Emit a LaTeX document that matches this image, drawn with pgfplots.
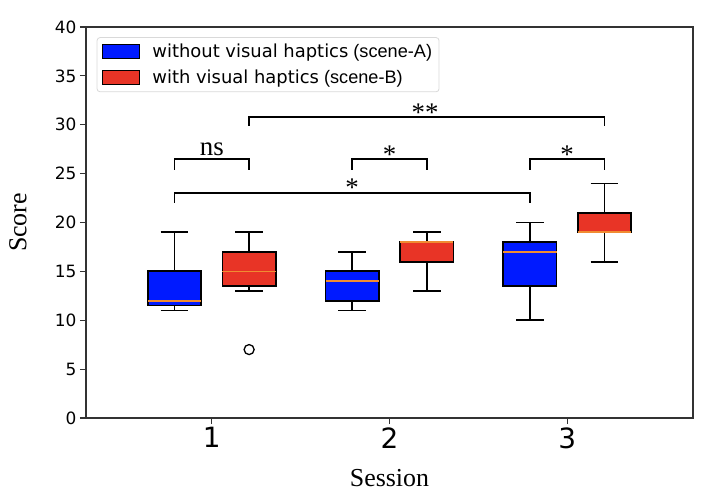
\documentclass[border=0pt]{standalone}
\usepackage{fontspec}
\setmainfont{DejaVu Sans}
\newfontfamily\serif{Liberation Serif}
\newfontfamily\lsans{Liberation Sans}
\usepackage{pgfplots}
\pgfplotsset{compat=1.18}
\definecolor{cblue}{RGB}{0,26,255}
\definecolor{cred}{RGB}{232,52,38}
\definecolor{cmed}{RGB}{240,140,50}
\pgfplotsset{
  wsk/.style={forget plot, black, line width=1.8bp},
  bxs/.style={forget plot, fill=#1, draw=black, line width=1.8bp, sharp corners, line join=miter},
  med/.style={forget plot, draw=cmed, line width=1.6bp},
}
\begin{document}
\begin{tikzpicture}
\path[use as bounding box] (-86bp,-79bp) rectangle (620bp,418bp);
\begin{axis}[
  at={(0,0)}, anchor=south west,
  scale only axis, width=607bp, height=391bp,
  xmin=0.292, xmax=3.708, ymin=0, ymax=40,
  xtick={1,2,3}, ytick={0,5,...,40},
  tick align=outside, tick pos=left, major tick length=6bp,
  axis line style={draw=black!80, line width=1.2bp},
  every tick/.style={black!80, line width=1.1bp},
  /pgf/number format/assume math mode=true,
  xticklabel style={font=\fontsize{28}{28}\selectfont},
  yticklabel style={font=\fontsize{17}{17}\selectfont},
  xlabel={Session}, ylabel={Score},
  xlabel style={font=\serif\fontsize{26}{26}\selectfont, at={(axis description cs:0.5,-0.1757)}, anchor=base},
  ylabel style={font=\serif\fontsize{26}{26}\selectfont, at={(axis description cs:-0.112,0.5)}, anchor=center},
  clip=false,
  legend image code/.code={\draw[#1, sharp corners, line width=1.3bp] (0bp,-7bp) rectangle (37bp,7bp);},
  legend style={at={(axis description cs:0.0176,0.974)}, anchor=north west,
    draw=black!15, rounded corners=3bp, line width=0.8bp,
    font=\fontsize{18}{20}\selectfont, inner xsep=5bp, inner ysep=4.5bp,
    row sep=7bp, nodes={inner sep=2bp},
    /tikz/every odd column/.append style={column sep=10bp}},
  legend cell align=left,
]
\addlegendimage{fill=cblue, draw=black}
\addlegendentry{without visual haptics{\lsans\fontsize{18.2}{20}\selectfont\ (scene-A)}}
\addlegendimage{fill=cred, draw=black}
\addlegendentry{with visual haptics{\lsans\fontsize{18.2}{20}\selectfont\ (scene-B)}}

% ---------- Session 1, blue (pos 0.79): 11 / 11.5 / 12 / 15 / 19
\addplot[wsk] coordinates {(0.79,11) (0.79,11.5)};
\addplot[wsk] coordinates {(0.79,15) (0.79,19)};
\addplot[wsk] coordinates {(0.7125,11) (0.8675,11)};
\addplot[wsk] coordinates {(0.7125,19) (0.8675,19)};
\addplot[bxs=cblue] coordinates {(0.64,11.5) (0.94,11.5) (0.94,15) (0.64,15)} -- cycle;
\addplot[med] coordinates {(0.64,12) (0.94,12)};
% ---------- Session 1, red (pos 1.21): 13 / 13.5 / 15 / 17 / 19
\addplot[wsk] coordinates {(1.21,13) (1.21,13.5)};
\addplot[wsk] coordinates {(1.21,17) (1.21,19)};
\addplot[wsk] coordinates {(1.1325,13) (1.2875,13)};
\addplot[wsk] coordinates {(1.1325,19) (1.2875,19)};
\addplot[bxs=cred] coordinates {(1.06,13.5) (1.36,13.5) (1.36,17) (1.06,17)} -- cycle;
\addplot[med] coordinates {(1.06,15) (1.36,15)};
% ---------- Session 2, blue (pos 1.79): 11 / 12 / 14 / 15 / 17
\addplot[wsk] coordinates {(1.79,11) (1.79,12)};
\addplot[wsk] coordinates {(1.79,15) (1.79,17)};
\addplot[wsk] coordinates {(1.7125,11) (1.8675,11)};
\addplot[wsk] coordinates {(1.7125,17) (1.8675,17)};
\addplot[bxs=cblue] coordinates {(1.64,12) (1.94,12) (1.94,15) (1.64,15)} -- cycle;
\addplot[med] coordinates {(1.64,14) (1.94,14)};
% ---------- Session 2, red (pos 2.21): 13 / 16 / 18 / 18 / 19
\addplot[wsk] coordinates {(2.21,13) (2.21,16)};
\addplot[wsk] coordinates {(2.21,18) (2.21,19)};
\addplot[wsk] coordinates {(2.1325,13) (2.2875,13)};
\addplot[wsk] coordinates {(2.1325,19) (2.2875,19)};
\addplot[bxs=cred] coordinates {(2.06,16) (2.36,16) (2.36,18) (2.06,18)} -- cycle;
\addplot[med] coordinates {(2.06,18) (2.36,18)};
% ---------- Session 3, blue (pos 2.79): 10 / 13.5 / 17 / 18 / 20
\addplot[wsk] coordinates {(2.79,10) (2.79,13.5)};
\addplot[wsk] coordinates {(2.79,18) (2.79,20)};
\addplot[wsk] coordinates {(2.7125,10) (2.8675,10)};
\addplot[wsk] coordinates {(2.7125,20) (2.8675,20)};
\addplot[bxs=cblue] coordinates {(2.64,13.5) (2.94,13.5) (2.94,18) (2.64,18)} -- cycle;
\addplot[med] coordinates {(2.64,17) (2.94,17)};
% ---------- Session 3, red (pos 3.21): 16 / 19 / 19 / 21 / 24
\addplot[wsk] coordinates {(3.21,16) (3.21,19)};
\addplot[wsk] coordinates {(3.21,21) (3.21,24)};
\addplot[wsk] coordinates {(3.1325,16) (3.2875,16)};
\addplot[wsk] coordinates {(3.1325,24) (3.2875,24)};
\addplot[bxs=cred] coordinates {(3.06,19) (3.36,19) (3.36,21) (3.06,21)} -- cycle;
\addplot[med] coordinates {(3.06,19) (3.36,19)};
% outlier
\addplot[forget plot, only marks, mark=o, mark size=5bp, black, line width=1.3bp] coordinates {(1.21,7)};

% significance brackets
\addplot[forget plot, black, line width=1.4bp] coordinates {(0.79,25.4) (0.79,26.5) (1.21,26.5) (1.21,25.4)};
\addplot[forget plot, black, line width=1.4bp] coordinates {(1.79,25.4) (1.79,26.5) (2.21,26.5) (2.21,25.4)};
\addplot[forget plot, black, line width=1.4bp] coordinates {(2.79,25.4) (2.79,26.5) (3.21,26.5) (3.21,25.4)};
\addplot[forget plot, black, line width=1.4bp] coordinates {(0.79,22.0) (0.79,23.0) (2.79,23.0) (2.79,22.0)};
\addplot[forget plot, black, line width=1.4bp] coordinates {(1.21,29.9) (1.21,30.8) (3.21,30.8) (3.21,29.9)};

\node[anchor=base, font=\serif\fontsize{27}{27}\selectfont, inner sep=0pt] at (axis cs:1.0,26.9) {ns};
\node[anchor=base, font=\serif\fontsize{27}{27}\selectfont, inner sep=0pt] at (axis cs:2.0,26.0) {*};
\node[anchor=base, font=\serif\fontsize{27}{27}\selectfont, inner sep=0pt] at (axis cs:3.0,26.0) {*};
\node[anchor=base, font=\serif\fontsize{27}{27}\selectfont, inner sep=0pt] at (axis cs:1.79,22.7) {*};
\node[anchor=base, font=\serif\fontsize{27}{27}\selectfont, inner sep=0pt] at (axis cs:2.2,30.3) {**};
\end{axis}
\end{tikzpicture}
\end{document}
